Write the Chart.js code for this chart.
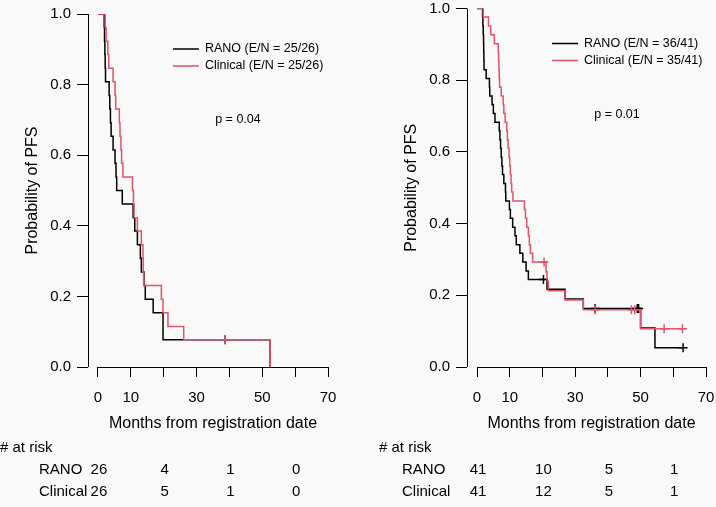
<!DOCTYPE html>
<html>
<head>
<meta charset="utf-8">
<script src="https://cdn.jsdelivr.net/npm/chart.js@4.4.1/dist/chart.umd.min.js"></script>
<style>
  html, body { margin: 0; padding: 0; background: #f9f9f9; }
  body { width: 716px; height: 507px; position: relative; overflow: hidden; }
  .panel { position: absolute; top: 0; width: 358px; height: 507px; }
</style>
</head>
<body>
<div class="panel" style="left:0"><canvas id="leftChart" width="358" height="507"></canvas></div>
<div class="panel" style="left:358px"><canvas id="rightChart" width="358" height="507"></canvas></div>
<script>
// axis ticks and labels
const xTicks = [0, 10, 20, 30, 40, 50, 60, 70];
const xTickLabels = ['0', '10', '', '30', '', '50', '', '70'];
const yTicks = [0, 0.2, 0.4, 0.6, 0.8, 1.0];
const yTickLabels = ['0.0', '0.2', '0.4', '0.6', '0.8', '1.0'];
const groupNames = ['RANO', 'Clinical'];
const riskTimes = [0, 20, 40, 60];

// left panel (E/N = 25/26 both)
const leftLegend = ['RANO (E/N = 25/26)', 'Clinical (E/N = 25/26)'];
const leftPValue = 'p = 0.04';
const leftRanoTime = [0, 1.9, 2.0, 2.1, 2.2, 2.3, 3.4, 3.6, 3.8, 4.0, 4.6, 5.2, 5.5, 5.7, 7.4, 10.7, 11.2, 12.0, 12.9, 13.2, 14.0, 14.4, 16.8, 19.8, 52.4];
const leftRanoSurv = [1, .962, .923, .885, .846, .808, .769, .731, .692, .654, .615, .577, .538, .5, .462, .423, .385, .346, .308, .269, .231, .192, .154, .077, 0];
const leftRanoCensor = [38.7];
const leftClinTime = [0, 2.2, 2.5, 3.0, 3.3, 4.6, 5.2, 5.4, 6.5, 6.7, 7.0, 7.2, 7.6, 10.5, 10.8, 11.0, 12.0, 13.2, 13.7, 13.8, 13.9, 19.3, 19.8, 21.3, 26.1, 52.4];
const leftClinSurv = [1, .962, .923, .885, .846, .808, .769, .731, .692, .654, .615, .577, .538, .5, .462, .423, .385, .346, .308, .269, .231, .192, .154, .115, .077, 0];
const leftClinCensor = [38.7];
const leftRanoRisk = [26, 4, 1, 0];
const leftClinRisk = [26, 5, 1, 0];

// right panel
const rightLegend = ['RANO (E/N = 36/41)', 'Clinical (E/N = 35/41)'];
const rightPValue = 'p = 0.01';
const rightRanoTime = [0, 1.7, 1.8, 1.9, 2.0, 2.05, 2.1, 2.15, 2.8, 3.8, 3.9, 4.6, 5.0, 5.5, 6.8, 7.0, 7.2, 7.4, 7.6, 7.8, 8.2, 8.7, 8.8, 9.9, 10.2, 10.9, 11.6, 12.0, 13.1, 14.0, 15.0, 15.7, 21.4, 26.9, 32.5, 50.0, 54.4, 63.0];
const rightRanoSurv = [1, .976, .951, .927, .902, .878, .854, .829, .805, .780, .756, .732, .707, .683, .659, .634, .610, .585, .561, .537, .512, .488, .463, .439, .415, .390, .366, .341, .317, .293, .268, .244, .217, .190, .163, .109, .054, .054];
const rightRanoCensor = [20.3, 36.1, 49.0, 49.4, 63.0];
const rightClinTime = [0, 1.9, 3.5, 4.2, 5.3, 6.5, 6.6, 6.7, 6.8, 6.9, 7.4, 8.0, 8.2, 8.6, 9.1, 9.3, 9.5, 9.8, 10.0, 10.2, 10.4, 10.6, 11.0, 14.5, 14.8, 15.2, 15.7, 16.0, 16.3, 17.0, 21.1, 21.4, 21.8, 26.9, 32.5, 50.0, 62.8];
const rightClinSurv = [1, .976, .951, .927, .902, .878, .854, .829, .805, .780, .756, .732, .707, .683, .659, .634, .610, .585, .561, .537, .512, .488, .463, .439, .415, .390, .366, .341, .317, .293, .266, .240, .213, .187, .160, .107, .107];
const rightClinCensor = [20.5, 36.1, 47.2, 48.2, 57.2, 62.8];
const rightRanoRisk = [41, 10, 5, 1];
const rightClinRisk = [41, 12, 5, 1];

const FONT = "'Liberation Sans', Arial, Helvetica, sans-serif";
const RANO_COLOR = '#000000';
const CLIN_COLOR = '#DF536B';

// value of the step curve at time t (for placing censor marks)
function stepAt(times, surv, t) {
  let v = surv[0];
  for (let i = 0; i < times.length; i++) {
    if (times[i] <= t) v = surv[i];
  }
  return v;
}
const toPoints = (times, surv) => times.map((t, i) => ({ x: t, y: surv[i] }));
const toCensor = (cens, times, surv) => cens.map(t => ({ x: t, y: stepAt(times, surv, t) }));

function makePanel(canvasId, p) {
  // draws axis lines, titles, legend, p-value and the at-risk table
  const decor = {
    id: 'kmDecor',
    afterDraw(chart) {
      const { ctx, chartArea: a, scales: { x, y } } = chart;
      const x0 = x.getPixelForValue(0), x70 = x.getPixelForValue(70);
      const y0 = y.getPixelForValue(0), y1 = y.getPixelForValue(1);
      ctx.save();
      ctx.strokeStyle = '#000';
      ctx.lineWidth = 1;
      ctx.beginPath();
      ctx.moveTo(Math.round(a.left) + 0.5, y0);
      ctx.lineTo(Math.round(a.left) + 0.5, y1);
      ctx.moveTo(x0, Math.round(a.bottom) + 0.5);
      ctx.lineTo(x70, Math.round(a.bottom) + 0.5);
      ctx.stroke();

      ctx.fillStyle = '#000';
      ctx.textBaseline = 'middle';

      // y title
      ctx.save();
      ctx.translate(a.left - 55, (y0 + y1) / 2);
      ctx.rotate(-Math.PI / 2);
      ctx.textAlign = 'center';
      ctx.font = '16px ' + FONT;
      ctx.fillText('Probability of PFS', 0, 0);
      ctx.restore();

      // x title
      ctx.textAlign = 'center';
      ctx.font = '16px ' + FONT;
      ctx.fillText('Months from registration date', (x0 + x70) / 2, 424);

      // legend
      ctx.font = '12.5px ' + FONT;
      ctx.textAlign = 'left';
      [RANO_COLOR, CLIN_COLOR].forEach((c, i) => {
        const ly = y1 + 35 + 17 * i;
        ctx.strokeStyle = c;
        ctx.lineWidth = 1.5;
        ctx.beginPath();
        ctx.moveTo(x0 + 75, ly);
        ctx.lineTo(x0 + 101, ly);
        ctx.stroke();
        ctx.fillText(p.legend[i], x0 + 107, ly);
      });

      // p value
      ctx.textAlign = 'center';
      ctx.fillText(p.pValue, x0 + 140, y1 + 106);

      // number at risk
      ctx.font = '15px ' + FONT;
      ctx.textAlign = 'left';
      ctx.fillText('# at risk', a.left - 88, 448);
      [p.ranoRisk, p.clinRisk].forEach((row, i) => {
        const ry = 470 + 22 * i;
        ctx.textAlign = 'left';
        ctx.fillText(groupNames[i], a.left + p.nameDx, ry);
        ctx.textAlign = 'center';
        row.forEach((n, j) => ctx.fillText(String(n), x.getPixelForValue(riskTimes[j]) + 1, ry));
      });
      ctx.restore();
    }
  };

  return new Chart(document.getElementById(canvasId), {
    type: 'line',
    data: {
      datasets: [
        { label: 'Clinical', data: toPoints(p.clinT, p.clinS), borderColor: CLIN_COLOR, borderWidth: 1.5,
          stepped: true, pointRadius: 0, fill: false, order: 0 },
        { label: 'Clinical censored', type: 'scatter', data: toCensor(p.clinC, p.clinT, p.clinS),
          pointStyle: 'cross', pointRadius: 4.5, borderColor: CLIN_COLOR, borderWidth: 1.5, order: 0 },
        { label: 'RANO', data: toPoints(p.ranoT, p.ranoS), borderColor: RANO_COLOR, borderWidth: 1.5,
          stepped: true, pointRadius: 0, fill: false, order: 1 },
        { label: 'RANO censored', type: 'scatter', data: toCensor(p.ranoC, p.ranoT, p.ranoS),
          pointStyle: 'cross', pointRadius: 4.5, borderColor: RANO_COLOR, borderWidth: 1.5, order: 1 }
      ]
    },
    options: {
      responsive: false,
      animation: false,
      layout: { padding: { top: p.top, right: p.right, left: 0, bottom: 0 } },
      plugins: { legend: { display: false }, tooltip: { enabled: false } },
      scales: {
        x: {
          type: 'linear', min: p.xMin, max: 70,
          afterFit: s => { s.height = 507 - p.bottom; s.paddingLeft = 0; s.paddingRight = 0; },
          afterBuildTicks: s => { s.ticks = xTicks.map(v => ({ value: v })); },
          ticks: { autoSkip: false, maxRotation: 0, padding: 13, color: '#000',
                   font: { family: FONT, size: 15, lineHeight: 1 }, callback: (v, i) => xTickLabels[i] },
          grid: { drawOnChartArea: false, drawTicks: true, tickLength: 10, color: '#000', lineWidth: 1 },
          border: { display: false }
        },
        y: {
          min: 0, max: 1,
          afterFit: s => { s.width = p.left; s.paddingTop = 0; s.paddingBottom = 0; },
          afterBuildTicks: s => { s.ticks = yTicks.map(v => ({ value: v })); },
          ticks: { autoSkip: false, padding: 6, color: '#000',
                   font: { family: FONT, size: 15, lineHeight: 1 }, callback: (v, i) => yTickLabels[i] },
          grid: { drawOnChartArea: false, drawTicks: true, tickLength: 11, color: '#000', lineWidth: 1 },
          border: { display: false }
        }
      }
    },
    plugins: [decor]
  });
}

makePanel('leftChart', {
  left: 88, right: 30, top: 14, bottom: 367, xMin: -3.03, nameDx: -49,
  legend: leftLegend, pValue: leftPValue,
  ranoT: leftRanoTime, ranoS: leftRanoSurv, ranoC: leftRanoCensor,
  clinT: leftClinTime, clinS: leftClinSurv, clinC: leftClinCensor,
  ranoRisk: leftRanoRisk, clinRisk: leftClinRisk
});

makePanel('rightChart', {
  left: 109, right: 10, top: 8.5, bottom: 367, xMin: -3.06, nameDx: -65,
  legend: rightLegend, pValue: rightPValue,
  ranoT: rightRanoTime, ranoS: rightRanoSurv, ranoC: rightRanoCensor,
  clinT: rightClinTime, clinS: rightClinSurv, clinC: rightClinCensor,
  ranoRisk: rightRanoRisk, clinRisk: rightClinRisk
});
</script>
</body>
</html>
